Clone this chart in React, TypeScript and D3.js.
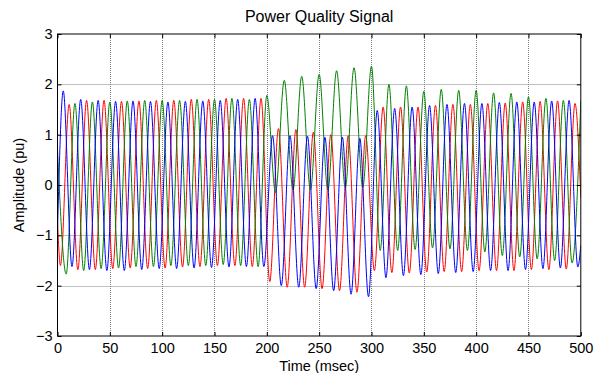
import * as d3 from 'd3'
import { useEffect, useRef } from 'react'

// Power quality signal, 3 phases at 60 Hz, 0..500 ms.
// Values are the per-cycle peaks / troughs.
const xTicks = [0, 50, 100, 150, 200, 250, 300, 350, 400, 450, 500]
const yTicks = [-3, -2, -1, 0, 1, 2, 3]

const HALF_CYCLE_MS = 1000 / 60 / 2

// blue: first peak at 5.5 ms
const blueStart = -0.9
const blueFirstMs = 5.5
const bluePeaks = [1.87, 1.7, 1.68, 1.66, 1.67, 1.66, 1.65, 1.66, 1.67, 1.68, 1.7, 1.72,
  0.98, 0.98, 0.97, 0.95, 0.95, 0.93,
  1.48, 1.52, 1.55, 1.58, 1.6, 1.62, 1.62, 1.64, 1.65, 1.65, 1.67, 1.68]
const blueTroughs = [-1.62, -1.68, -1.7, -1.7, -1.68, -1.66, -1.66, -1.65, -1.64, -1.63, -1.62, -1.62,
  -2.0, -2.03, -2.06, -2.1, -2.17, -2.22,
  -1.84, -1.8, -1.78, -1.76, -1.74, -1.72, -1.7, -1.7, -1.68, -1.66, -1.65, -1.63]
const blueEnd = -1.2

// red: first trough at 2.8 ms
const redStart = -0.7
const redFirstMs = 2.8
const redTroughs = [-1.6, -1.68, -1.68, -1.66, -1.65, -1.66, -1.65, -1.63, -1.62, -1.6, -1.6, -1.62,
  -1.92, -2.03, -2.03, -2.06, -2.1, -2.13,
  -1.7, -1.74, -1.75, -1.73, -1.72, -1.72, -1.7, -1.7, -1.7, -1.68, -1.68, -1.67]
const redPeaks = [1.6, 1.68, 1.68, 1.66, 1.67, 1.68, 1.68, 1.7, 1.7, 1.72, 1.72, 1.72,
  1.12, 1.1, 1.05, 1.0, 0.98, 0.98,
  1.55, 1.55, 1.55, 1.58, 1.6, 1.6, 1.62, 1.63, 1.65, 1.66, 1.67, 1.62]
const redEnd = -0.25

// green: first peak at 0 ms (31 peaks, 30 troughs)
const greenFirstMs = 0
const greenPeaks = [0.7, 1.62, 1.65, 1.65, 1.67, 1.68, 1.68, 1.68, 1.7, 1.7, 1.72, 1.7,
  1.78, 2.08, 2.16, 2.2, 2.27, 2.33, 2.36,
  2.0, 1.97, 1.86, 1.9, 1.88, 1.88, 1.83, 1.82, 1.75, 1.72, 1.68, 1.67]
const greenTroughs = [-1.77, -1.7, -1.66, -1.65, -1.62, -1.62, -1.6, -1.6, -1.6, -1.58, -1.6, -1.62,
  -0.15, -0.1, -0.1, -0.1, -0.05, -0.05,
  -1.3, -1.3, -1.28, -1.25, -1.27, -1.3, -1.33, -1.4, -1.43, -1.47, -1.5, -1.55]

type Pt = { t: number; v: number }

function interleave(firstMs: number, a: number[], b: number[]): Pt[] {
  const pts: Pt[] = []
  const n = Math.max(a.length, b.length)
  for (let i = 0; i < n; i++) {
    if (i < a.length) pts.push({ t: firstMs + 2 * i * HALF_CYCLE_MS, v: a[i] })
    if (i < b.length) pts.push({ t: firstMs + (2 * i + 1) * HALF_CYCLE_MS, v: b[i] })
  }
  return pts
}

const redPts = [{ t: 0, v: redStart }, ...interleave(redFirstMs, redTroughs, redPeaks), { t: 500, v: redEnd }]
const greenPts = interleave(greenFirstMs, greenPeaks, greenTroughs)
const bluePts = [{ t: 0, v: blueStart }, ...interleave(blueFirstMs, bluePeaks, blueTroughs), { t: 500, v: blueEnd }]

const series = [
  { name: 'red', color: '#ff0000', pts: redPts },
  { name: 'green', color: '#008000', pts: greenPts },
  { name: 'blue', color: '#0000ff', pts: bluePts },
]

const W = 600, H = 373
const left = 57.5, right = 580.8, top = 34, bottom = 336
const FONT = 'Liberation Sans, Arial, sans-serif'

function App() {
  const ref = useRef<SVGSVGElement>(null)

  useEffect(() => {
    const svg = d3.select(ref.current)
    svg.selectAll('*').remove()

    const x = d3.scaleLinear().domain([0, 500]).range([left, right])
    const y = d3.scaleLinear().domain([-3, 3]).range([bottom, top])

    svg.append('rect').attr('width', W).attr('height', H).attr('fill', '#fff')

    // grid
    const grid = svg.append('g').attr('stroke', '#808080').attr('stroke-width', 1).attr('stroke-dasharray', '1,1')
    grid.selectAll('.gx').data(xTicks.slice(1, -1)).join('line')
      .attr('x1', d => Math.round(x(d)) + 0.5).attr('x2', d => Math.round(x(d)) + 0.5)
      .attr('y1', top).attr('y2', bottom)
    grid.selectAll('.gy').data(yTicks.slice(1, -1)).join('line')
      .attr('y1', d => Math.round(y(d)) + 0.5).attr('y2', d => Math.round(y(d)) + 0.5)
      .attr('x1', left).attr('x2', right)

    // signals
    svg.append('clipPath').attr('id', 'plotclip')
      .append('rect').attr('x', left).attr('y', top).attr('width', right - left).attr('height', bottom - top)
    const line = d3.line<Pt>().x(d => x(d.t)).y(d => y(d.v)).curve(d3.curveMonotoneX)
    svg.append('g').attr('clip-path', 'url(#plotclip)')
      .selectAll('path').data(series).join('path')
      .attr('d', d => line(d.pts))
      .attr('fill', 'none').attr('stroke', d => d.color).attr('stroke-width', 1)

    // axes with inward ticks
    const gx = svg.append('g').attr('transform', `translate(0,${bottom})`)
      .call(d3.axisBottom(x).tickValues(xTicks).tickSizeInner(-4).tickSizeOuter(0).tickPadding(7))
    const gxt = svg.append('g').attr('transform', `translate(0,${top})`)
      .call(d3.axisTop(x).tickValues(xTicks).tickSizeInner(-4).tickSizeOuter(0).tickFormat(() => ''))
    const gy = svg.append('g').attr('transform', `translate(${left},0)`)
      .call(d3.axisLeft(y).tickValues(yTicks).tickFormat(d3.format('d')).tickSizeInner(-4).tickSizeOuter(0).tickPadding(5))
    const gyr = svg.append('g').attr('transform', `translate(${right},0)`)
      .call(d3.axisRight(y).tickValues(yTicks).tickSizeInner(-4).tickSizeOuter(0).tickFormat(() => ''))
    for (const g of [gx, gxt, gy, gyr]) {
      g.select('.domain').remove()
      g.selectAll('line').attr('stroke', '#000')
      g.selectAll('text').attr('font-family', FONT).attr('font-size', 14.5).attr('fill', '#000')
    }

    svg.append('rect').attr('x', left).attr('y', top).attr('width', right - left).attr('height', bottom - top)
      .attr('fill', 'none').attr('stroke', '#000').attr('stroke-width', 1)

    svg.append('text').attr('x', (left + right) / 2).attr('y', 22)
      .attr('text-anchor', 'middle').attr('font-family', FONT).attr('font-size', 16)
      .text('Power Quality Signal')
    svg.append('text').attr('x', (left + right) / 2).attr('y', 371)
      .attr('text-anchor', 'middle').attr('font-family', FONT).attr('font-size', 14.5)
      .text('Time (msec)')
    svg.append('text').attr('transform', `translate(24,${(top + bottom) / 2}) rotate(-90)`)
      .attr('text-anchor', 'middle').attr('font-family', FONT).attr('font-size', 14.5)
      .text('Amplitude (pu)')
  })

  return (
    <svg ref={ref} width={W} height={H} style={{ position: 'absolute', left: 0, top: 0 }} />
  )
}

export default App
